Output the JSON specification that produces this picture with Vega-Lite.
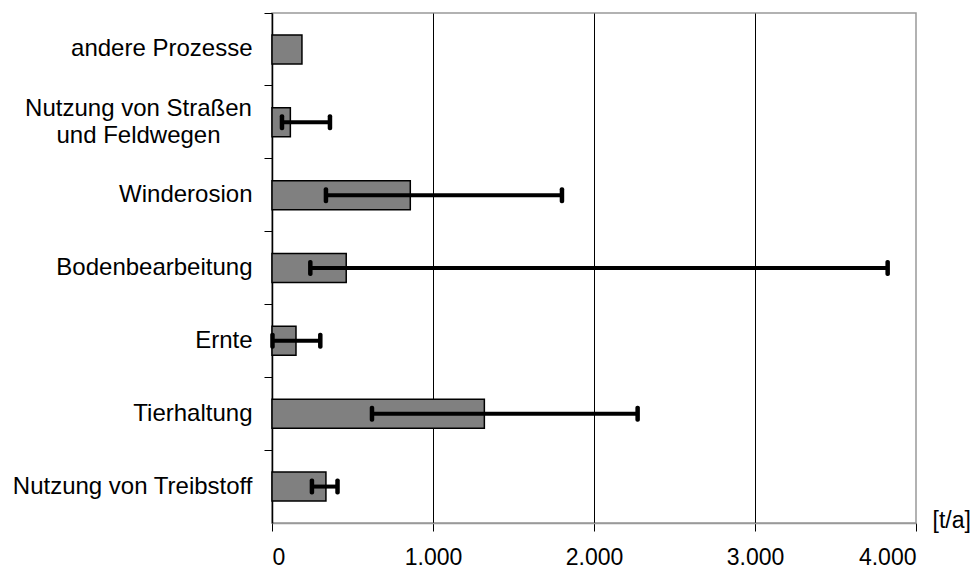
{
  "$schema": "https://vega.github.io/schema/vega-lite/v6.json",
  "autosize": {"type": "none"},
  "padding": {"left": 272, "top": 13, "right": 60, "bottom": 47},
  "width": 644,
  "height": 510,
  "background": "white",
  "data": {
    "values": [
      {"kategorie": "andere Prozesse", "wert": 186, "min": null, "max": null},
      {"kategorie": "Nutzung von Straßen und Feldwegen", "wert": 114, "min": 62, "max": 360},
      {"kategorie": "Winderosion", "wert": 859, "min": 335, "max": 1801},
      {"kategorie": "Bodenbearbeitung", "wert": 461, "min": 238, "max": 3824},
      {"kategorie": "Ernte", "wert": 149, "min": 3, "max": 300},
      {"kategorie": "Tierhaltung", "wert": 1319, "min": 621, "max": 2271},
      {"kategorie": "Nutzung von Treibstoff", "wert": 335, "min": 248, "max": 407}
    ]
  },
  "encoding": {
    "y": {
      "field": "kategorie",
      "type": "nominal",
      "sort": ["andere Prozesse", "Nutzung von Straßen und Feldwegen", "Winderosion", "Bodenbearbeitung", "Ernte", "Tierhaltung", "Nutzung von Treibstoff"],
      "scale": {"paddingInner": 0, "paddingOuter": 0},
      "axis": {
        "title": null,
        "bandPosition": 0,
        "domainColor": "black",
        "domainWidth": 1.5,
        "tickColor": "black",
        "tickSize": 8,
        "tickWidth": 1,
        "labelPadding": {"condition": {"test": "datum.value == 'Nutzung von Straßen und Feldwegen'", "value": 126}, "value": 12},
        "labelAlign": {"condition": {"test": "datum.value == 'Nutzung von Straßen und Feldwegen'", "value": "center"}, "value": "right"},
        "labelFont": "Liberation Sans",
        "labelFontSize": 24,
        "labelColor": "black",
        "labelLineHeight": 27,
        "labelLimit": 400,
        "labelOffset": {"condition": {"test": "datum.value == 'Nutzung von Straßen und Feldwegen'", "value": -13.5}, "value": 0},
        "labelExpr": "datum.value == 'Nutzung von Straßen und Feldwegen' ? ['Nutzung von Straßen', 'und Feldwegen'] : datum.value"
      }
    }
  },
  "layer": [
    {
      "mark": {"type": "bar", "size": 29, "fill": "#808080", "stroke": "black", "strokeWidth": 1.5},
      "encoding": {
        "x": {
          "field": "wert",
          "type": "quantitative",
          "scale": {"domain": [0, 4000], "nice": false},
          "axis": {
            "values": [0, 1000, 2000, 3000, 4000],
            "labelExpr": "replace(format(datum.value, ','), ',', '.')",
            "labelFont": "Liberation Sans",
            "labelFontSize": 23,
            "labelColor": "black",
            "labelPadding": 15,
            "tickSize": 8,
            "tickColor": "black",
            "domainColor": "#999999",
            "domainWidth": 1.5,
            "grid": true,
            "gridColor": "black",
            "gridWidth": 1,
            "gridOpacity": {"condition": {"test": "datum.value == 0 || datum.value == 4000", "value": 0}, "value": 1},
            "title": "[t/a]",
            "titleFont": "Liberation Sans",
            "titleFontSize": 23,
            "titleFontWeight": "normal",
            "titleColor": "black",
            "titleX": 660,
            "titleY": -3,
            "titleAlign": "left",
            "titleBaseline": "middle",
            "titleAnchor": null
          }
        }
      }
    },
    {
      "mark": {"type": "rule", "color": "black", "strokeWidth": 4},
      "encoding": {
        "x": {"field": "min", "type": "quantitative"},
        "x2": {"field": "max"}
      }
    },
    {
      "mark": {"type": "tick", "color": "black", "opacity": 1, "size": 16, "thickness": 4.5, "cornerRadius": 2, "orient": "vertical"},
      "encoding": {
        "x": {"field": "min", "type": "quantitative"}
      }
    },
    {
      "mark": {"type": "tick", "color": "black", "opacity": 1, "size": 16, "thickness": 4.5, "cornerRadius": 2, "orient": "vertical"},
      "encoding": {
        "x": {"field": "max", "type": "quantitative"}
      }
    }
  ],
  "config": {
    "view": {"stroke": "#999999", "strokeWidth": 1.5},
    "font": "Liberation Sans"
  }
}
